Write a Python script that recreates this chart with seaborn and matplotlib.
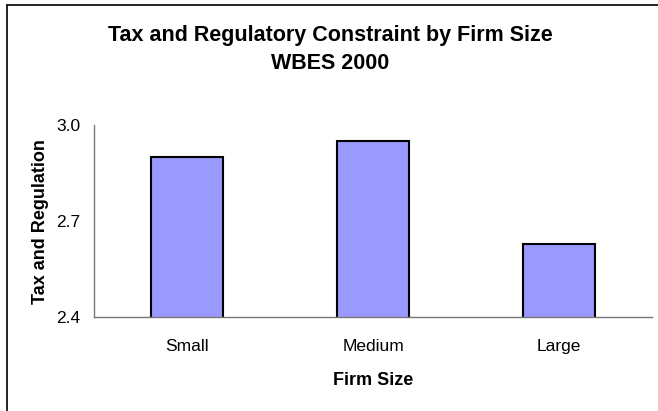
import matplotlib
matplotlib.use("Agg")
import matplotlib.pyplot as plt
import seaborn as sns
import pandas as pd
from matplotlib.lines import Line2D

# Mean tax-and-regulation constraint score by firm size
categories = ["Small", "Medium", "Large"]
scores = [2.90, 2.95, 2.63]
y_ticks = [2.4, 2.7, 3.0]

sns.set_theme(style="white")
plt.rcParams["font.family"] = ["Liberation Sans", "DejaVu Sans"]
plt.rcParams["text.color"] = "black"
plt.rcParams["axes.labelcolor"] = "black"
plt.rcParams["xtick.labelcolor"] = "black"
plt.rcParams["ytick.labelcolor"] = "black"

df = pd.DataFrame({"size": categories, "score": scores})

fig = plt.figure(figsize=(6.58, 4.11), dpi=100)
ax = fig.add_axes([94 / 658, 1 - 317.3 / 411, (652 - 94) / 658, (317.3 - 125) / 411])

sns.barplot(data=df, x="size", y="score", order=categories, color="#9999FF",
            saturation=1, width=0.39, edgecolor="black", linewidth=1.5, ax=ax)

ax.set_ylim(2.4, 3.0)
ax.set_xlim(-0.5, 2.5)
ax.set_yticks(y_ticks)
ax.set_yticklabels([f"{t:.1f}" for t in y_ticks], fontsize=12.5)

# category labels centred on bars, tick marks on category boundaries
ax.set_xticks(range(len(categories)))
ax.set_xticklabels(categories, fontsize=12.5)
ax.tick_params(axis="x", length=0, pad=15.5)
ax.set_xticks([0.5, 1.5, 2.5], minor=True)
ax.tick_params(axis="x", which="minor", direction="out", length=4, width=1, color="#555555")
ax.tick_params(axis="y", direction="out", length=4, width=1, color="#555555", pad=6)

for s in ["top", "right"]:
    ax.spines[s].set_visible(False)
for s in ["left", "bottom"]:
    ax.spines[s].set_color("#777777")
    ax.spines[s].set_linewidth(1)

ax.set_xlabel("Firm Size", fontsize=13, fontweight="bold", labelpad=13)
ax.set_ylabel("Tax and Regulation", fontsize=13, fontweight="bold", labelpad=5)

fig.text(330 / 658, 1 - 49.5 / 411, "Tax and Regulatory Constraint by Firm Size\nWBES 2000",
         ha="center", va="center", fontsize=15.5, fontweight="bold", linespacing=1.45)

# outer chart frame, clipped at right and bottom edges
fig.add_artist(Line2D([7 / 658, 7 / 658], [0, 1 - 5 / 411], color="black", lw=1.2,
                      transform=fig.transFigure))
fig.add_artist(Line2D([7 / 658, 1], [1 - 5 / 411, 1 - 5 / 411], color="black", lw=1.2,
                      transform=fig.transFigure))

fig.savefig("out.png", dpi=100)
